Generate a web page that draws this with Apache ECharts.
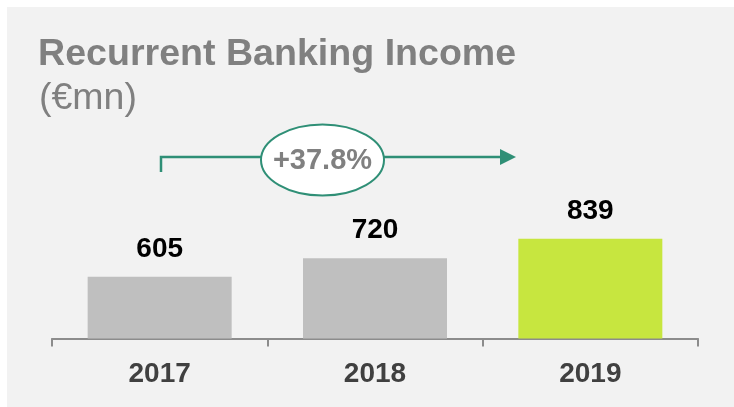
<!DOCTYPE html>
<html>
<head>
<meta charset="utf-8">
<script src="https://cdn.jsdelivr.net/npm/echarts@6/dist/echarts.min.js"></script>
<style>
  html, body { margin: 0; padding: 0; background: #ffffff; }
  #chart { width: 734px; height: 407px; }
</style>
</head>
<body>
<div id="chart"></div>
<script>
// data
var years = ['2017', '2018', '2019'];
var income = [605, 720, 839];
var barColors = ['#bfbfbf', '#bfbfbf', '#c7e63f'];
var growthLabel = '+37.8%';

var green = '#2f8f76';
var myChart = echarts.init(document.getElementById('chart'));

var option = {
  animation: false,
  backgroundColor: '#ffffff',
  grid: { left: 52, right: 36, top: 131.5, bottom: 68.5 },
  xAxis: {
    type: 'category',
    data: years,
    axisLine: { lineStyle: { color: '#8c8c8c', width: 2 } },
    axisTick: { show: true, length: 8, lineStyle: { color: '#8c8c8c', width: 2 } },
    axisLabel: {
      margin: 22,
      color: '#404040',
      fontSize: 28,
      fontWeight: 'bold',
      fontFamily: 'Liberation Sans, Arial, sans-serif'
    }
  },
  yAxis: {
    type: 'value',
    min: 225,
    max: 1500,
    show: false,
    splitLine: { show: false }
  },
  graphic: [
    // gray panel
    { type: 'rect', z: -10, shape: { x: 7, y: 7, width: 727, height: 400 }, style: { fill: '#f2f2f2' } },
    // title
    { type: 'text', left: 38, top: 36, style: {
        text: 'Recurrent Banking Income', fill: '#808080',
        font: 'bold 37.6px "Liberation Sans", Arial, sans-serif' } },
    { type: 'text', left: 39, top: 80, style: {
        text: '(€mn)', fill: '#808080',
        font: '37.5px "Liberation Sans", Arial, sans-serif' } },
    // growth arrow
    { type: 'polyline', z: 5, shape: { points: [[161, 172], [161, 157], [502, 157]] },
      style: { stroke: green, lineWidth: 2.5, fill: null } },
    { type: 'polygon', z: 5, shape: { points: [[500, 149], [516, 157], [500, 165]] },
      style: { fill: green } },
    { type: 'ellipse', z: 6, shape: { cx: 322.5, cy: 160, rx: 61.5, ry: 35.5 },
      style: { fill: '#ffffff', stroke: green, lineWidth: 2 } },
    { type: 'text', z: 7, x: 322.5, y: 161, style: {
        text: growthLabel, fill: '#808080', align: 'center', verticalAlign: 'middle',
        font: 'bold 29px "Liberation Sans", Arial, sans-serif' } }
  ],
  series: [{
    type: 'bar',
    barWidth: 144,
    data: income.map(function (v, i) {
      return { value: v, itemStyle: { color: barColors[i] } };
    }),
    label: {
      show: true,
      position: 'top',
      distance: 14,
      color: '#000000',
      fontSize: 28,
      fontWeight: 'bold',
      fontFamily: 'Liberation Sans, Arial, sans-serif'
    }
  }]
};

myChart.setOption(option);
</script>
</body>
</html>
